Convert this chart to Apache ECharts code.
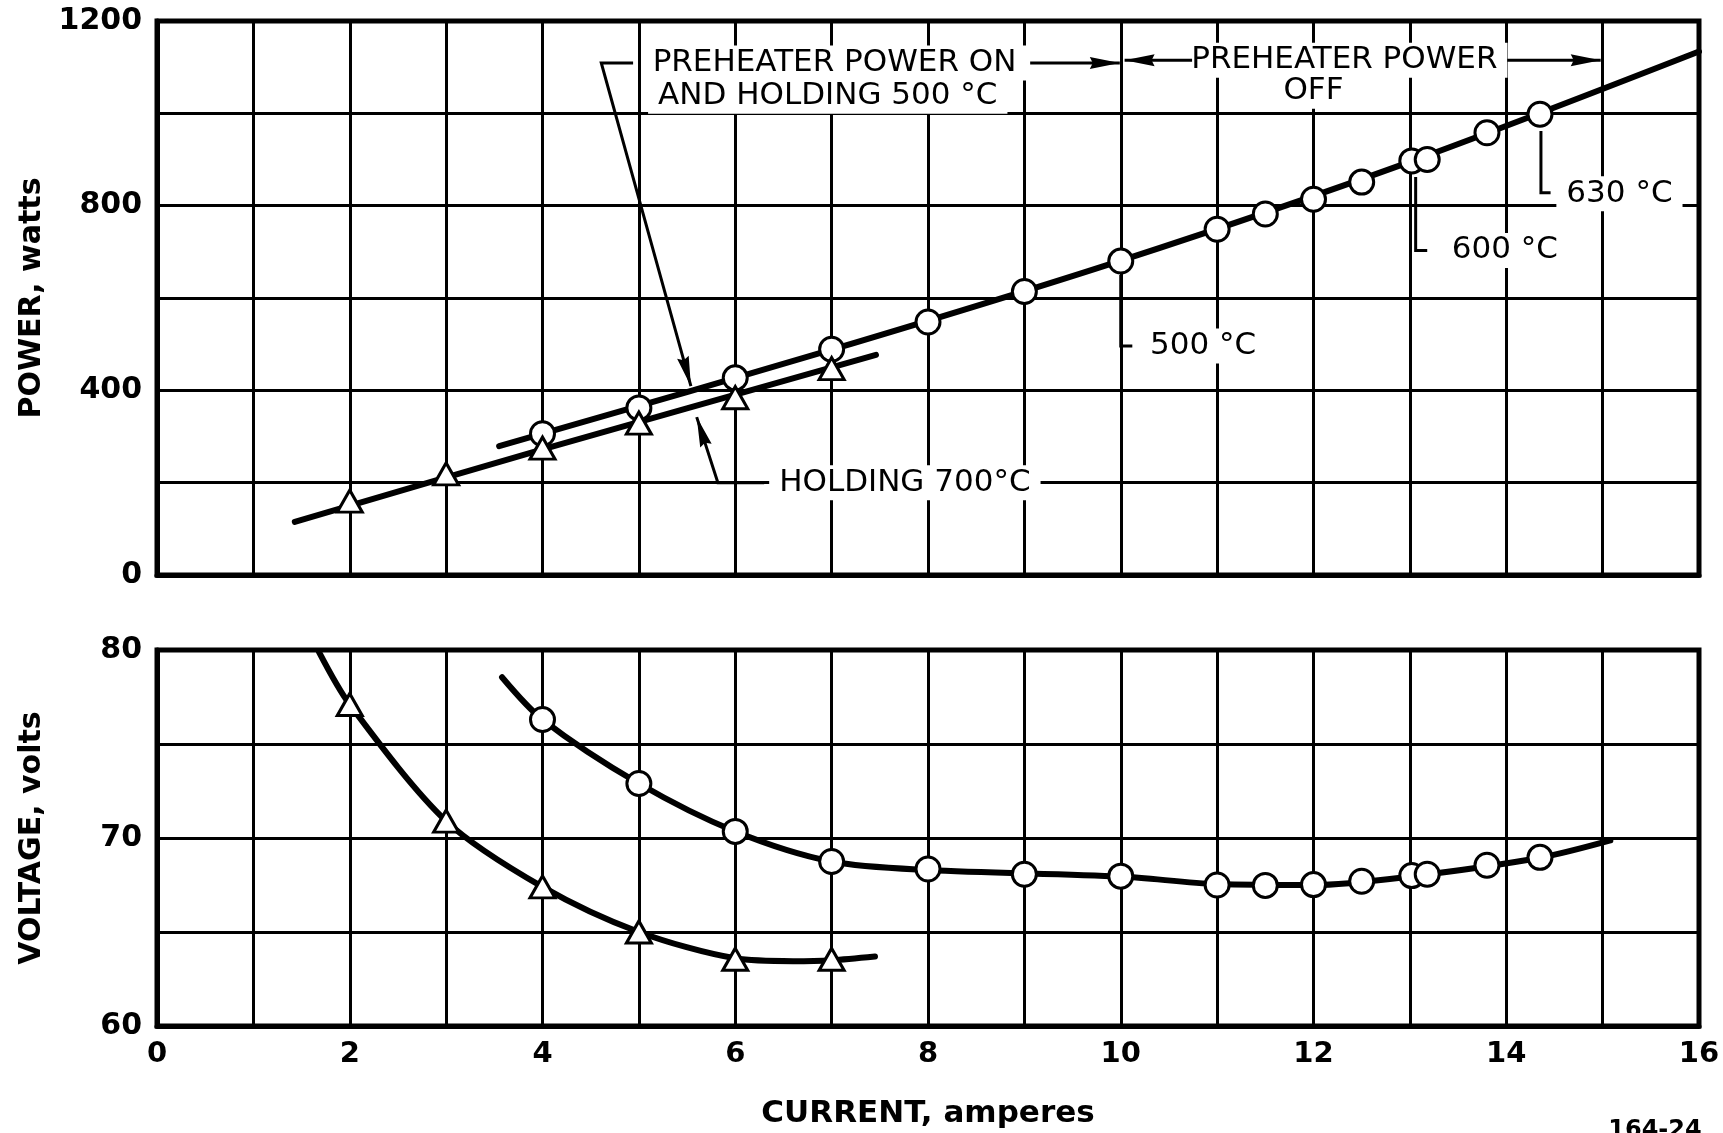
<!DOCTYPE html>
<html><head><meta charset="utf-8">
<script src="https://cdn.jsdelivr.net/npm/echarts@6/dist/echarts.min.js"></script>
<style>html,body{margin:0;padding:0;background:#fff;} #c{width:1723px;height:1133px;}</style>
</head><body><div id="c"></div>
<script>
// ---- tick labels ----
const currentTicks = [0, 2, 4, 6, 8, 10, 12, 14, 16];
const powerTicks = [0, 400, 800, 1200];
const voltageTicks = [60, 70, 80];

// ---- measured points (circles: preheater 500 °C / off; triangles: holding 700 °C) ----
const circleCurrent = [4, 5, 6, 7, 8, 9, 10, 11, 11.5, 12, 12.5, 13.02, 13.18, 13.8, 14.35];
const circlePower   = [306, 362, 427, 489, 548, 614, 680, 749, 782, 814, 851, 897, 900, 958, 998];
const circleVoltage = [76.3, 72.9, 70.35, 68.75, 68.35, 68.07, 67.97, 67.5, 67.48, 67.52, 67.7, 68.0, 68.07, 68.55, 68.97];

const triangleCurrent = [2, 3, 4, 5, 6, 7];
const trianglePower   = [160, 219, 275, 329, 384, 447];
const triangleVoltage = [77.1, 70.9, 67.4, 65.0, 63.55, 63.55];

// ---- faired curves as drawn on the chart ----
const circlePowerCurveX = [3.55, 7, 10, 13, 16];
const circlePowerCurveY = [279, 488, 681, 895, 1134];
const trianglePowerCurveX = [1.43, 4, 7.46];
const trianglePowerCurveY = [115, 272, 477];
const circleVoltCurveX = [3.58, 4, 5, 6, 7, 8, 10, 11, 12, 13, 14.35, 15.08];
const circleVoltCurveY = [78.55, 76.3, 72.9, 70.35, 68.75, 68.3, 67.95, 67.55, 67.5, 67.95, 68.95, 69.87];
const triangleVoltCurveX = [1.68, 2, 3, 4, 5, 6, 6.6, 7, 7.45];
const triangleVoltCurveY = [79.9, 77.1, 70.9, 67.4, 65.0, 63.6, 63.45, 63.5, 63.7];

// ---- annotations (in data units of the power chart) ----
const noteTexts = [
  { t: 'PREHEATER POWER ON', x: 7.03, y: 1109, align: 'center' },
  { t: 'AND HOLDING 500 °C', x: 6.96, y: 1037, align: 'center' },
  { t: 'PREHEATER POWER', x: 12.32, y: 1115, align: 'center' },
  { t: 'OFF', x: 12.0, y: 1048, align: 'center' },
  { t: 'HOLDING 700°C', x: 7.76, y: 200, align: 'center' },
  { t: '500 °C', x: 10.2, y: 496, align: 'left' },
  { t: '600 °C', x: 13.33, y: 703, align: 'left' },
  { t: '630 °C', x: 14.52, y: 826, align: 'left' }
];
const noteLines = [
  { pts: [[4.94, 1109], [4.61, 1109], [5.54, 409]], arrow: true },
  { pts: [[9.06, 1109], [9.99, 1109]], arrow: true },
  { pts: [[10.74, 1115], [10.04, 1115]], arrow: true },
  { pts: [[14.01, 1115], [14.98, 1115]], arrow: true },
  { pts: [[6.30, 200], [5.82, 200], [5.60, 342]], arrow: true },
  { pts: [[10, 650], [10, 496], [10.12, 496]], arrow: false },
  { pts: [[13.06, 862], [13.06, 703], [13.18, 703]], arrow: false },
  { pts: [[14.36, 962], [14.36, 828], [14.46, 828]], arrow: false }
];

const FONT = 'DejaVu Sans';
const zip = (xs, ys) => xs.map((x, i) => [x, ys[i]]);

const axisLabelStyle = { fontFamily: FONT, fontWeight: 'bold', fontSize: 30, color: '#000', margin: 15 };
const splitStyle = { show: true, lineStyle: { color: '#000', width: 3 } };
const axisLineStyle = { show: true, lineStyle: { color: '#000', width: 5 } };

const curveSeries = (xi, data) => ({
  type: 'line', xAxisIndex: xi, yAxisIndex: xi, data, showSymbol: false, smooth: 0.3,
  lineStyle: { color: '#000', width: 6, cap: 'round' }, z: 3, silent: true
});
const markSeries = (xi, data, symbol, size) => ({
  type: 'scatter', xAxisIndex: xi, yAxisIndex: xi, data, symbol, symbolSize: size,
  itemStyle: { color: '#fff', borderColor: '#000', borderWidth: 3, opacity: 1 }, z: 5, silent: true
});

const option = {
  animation: false,
  backgroundColor: '#fff',
  grid: [
    { left: 157, right: 24, top: 21, height: 554, show: true, borderColor: '#000', borderWidth: 5, backgroundColor: 'transparent' },
    { left: 157, right: 24, top: 650, height: 376, show: true, borderColor: '#000', borderWidth: 5, backgroundColor: 'transparent' }
  ],
  xAxis: [
    { type: 'value', gridIndex: 0, min: 0, max: 16, interval: 1, axisLabel: { show: false },
      axisTick: { show: false }, axisLine: axisLineStyle, splitLine: splitStyle },
    { type: 'value', gridIndex: 1, min: 0, max: 16, interval: 1,
      axisLabel: Object.assign({}, axisLabelStyle, { fontSize: 29, margin: 14, formatter: v => currentTicks.includes(v) ? String(v) : '' }),
      axisTick: { show: false }, axisLine: axisLineStyle, splitLine: splitStyle,
      name: 'CURRENT, amperes', nameLocation: 'middle', nameGap: 72,
      nameTextStyle: { fontFamily: FONT, fontWeight: 'bold', fontSize: 31, color: '#000' } }
  ],
  yAxis: [
    { type: 'value', gridIndex: 0, min: 0, max: 1200, interval: 200,
      axisLabel: Object.assign({}, axisLabelStyle, { formatter: v => powerTicks.includes(v) ? String(v) : '' }),
      axisTick: { show: false }, axisLine: axisLineStyle, splitLine: splitStyle,
      name: 'POWER, watts', nameLocation: 'middle', nameGap: 110,
      nameTextStyle: { fontFamily: FONT, fontWeight: 'bold', fontSize: 30, color: '#000' } },
    { type: 'value', gridIndex: 1, min: 60, max: 80, interval: 5,
      axisLabel: Object.assign({}, axisLabelStyle, { formatter: v => voltageTicks.includes(v) ? String(v) : '' }),
      axisTick: { show: false }, axisLine: axisLineStyle, splitLine: splitStyle,
      name: 'VOLTAGE, volts', nameLocation: 'middle', nameGap: 110,
      nameTextStyle: { fontFamily: FONT, fontWeight: 'bold', fontSize: 30, color: '#000' } }
  ],
  series: [
    curveSeries(0, zip(circlePowerCurveX, circlePowerCurveY)),
    curveSeries(0, zip(trianglePowerCurveX, trianglePowerCurveY)),
    curveSeries(1, zip(circleVoltCurveX, circleVoltCurveY)),
    curveSeries(1, zip(triangleVoltCurveX, triangleVoltCurveY)),
    markSeries(0, zip(circleCurrent, circlePower), 'circle', 24),
    markSeries(0, zip(triangleCurrent, trianglePower), 'triangle', [25, 22]),
    markSeries(1, zip(circleCurrent, circleVoltage), 'circle', 24),
    markSeries(1, zip(triangleCurrent, triangleVoltage), 'triangle', [25, 22])
  ]
};

const chart = echarts.init(document.getElementById('c'), null, { renderer: 'canvas' });
chart.setOption(option);

const P = (x, y) => chart.convertToPixel({ gridIndex: 0 }, [x, y]);
function arrowHead(tip, from, len, half) {
  const dx = tip[0] - from[0], dy = tip[1] - from[1];
  const L = Math.hypot(dx, dy), ux = dx / L, uy = dy / L;
  const bx = tip[0] - ux * len, by = tip[1] - uy * len;
  return { type: 'polygon', z: 20, silent: true,
    shape: { points: [tip, [bx - uy * half, by + ux * half], [bx + ux * 3, by + uy * 3], [bx + uy * half, by - ux * half]] },
    style: { fill: '#000' } };
}
const elements = [];
noteTexts.forEach(n => {
  const p = P(n.x, n.y);
  elements.push({ type: 'text', z: 15, silent: true, x: p[0], y: p[1],
    style: { text: n.t, font: 'normal 31px "DejaVu Sans"', fill: '#000', align: n.align, verticalAlign: 'middle',
      backgroundColor: '#fff', padding: [2, 10] } });
});
noteLines.forEach(l => {
  const pts = l.pts.map(q => P(q[0], q[1]));
  elements.push({ type: 'polyline', z: 18, silent: true, shape: { points: pts },
    style: { stroke: '#000', lineWidth: 3, fill: null } });
  if (l.arrow) elements.push(arrowHead(pts[pts.length - 1], pts[pts.length - 2], 30, 6));
});
elements.push({ type: 'text', z: 15, silent: true, x: 1655, y: 1119,
  style: { text: '164-24', font: 'bold 24px "DejaVu Sans"', fill: '#000', align: 'center', verticalAlign: 'top' } });
chart.setOption({ graphic: { elements } });
</script>
</body></html>
